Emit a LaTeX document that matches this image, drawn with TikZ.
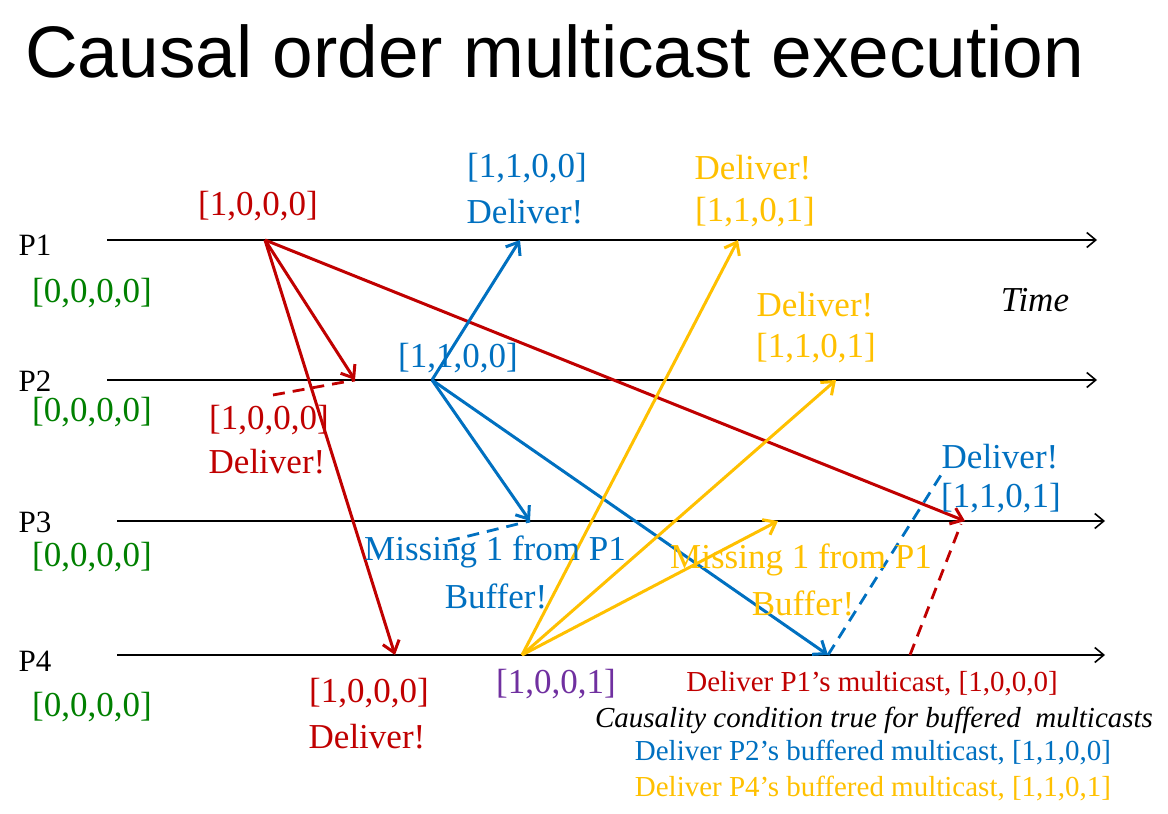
\documentclass[tikz,border=0pt]{standalone}
\usepackage{fontspec}
\setmainfont{Liberation Serif}
\newfontfamily\titlefont{Liberation Sans}
\usetikzlibrary{arrows.meta}
\definecolor{cred}{HTML}{C00000}
\definecolor{cblue}{HTML}{0070C0}
\definecolor{cyel}{HTML}{FFC000}
\definecolor{cgreen}{HTML}{008000}
\definecolor{cpurp}{HTML}{7030A0}
\begin{document}
\begin{tikzpicture}[x=1pt,y=-1pt,
  timeline/.style={black, line width=1.8pt, -{Straight Barb[length=9pt,width=15pt,line width=1.6pt]}},
  msg/.style={line width=3pt, -{Straight Barb[length=11pt,width=17pt]}},
  pointer/.style={line width=2.8pt, dash pattern=on 12pt off 8pt},
  lbl/.style={inner sep=0pt, font=\fontsize{35}{40}\selectfont},
  plbl/.style={inner sep=0pt, font=\fontsize{31}{36}\selectfont},
  small/.style={inner sep=0pt, font=\fontsize{29}{33}\selectfont}]
\useasboundingbox (0,0) rectangle (1168,814);

% title
\node[inner sep=0pt, anchor=base west, font=\titlefont\fontsize{73}{80}\selectfont] (title) at (25,77) {Causal order multicast execution};

% process labels
\node[plbl] (P1) at (35,245) {P1};
\node[plbl] (P2) at (35,381) {P2};
\node[plbl] (P3) at (35,522) {P3};
\node[plbl] (P4) at (35,661) {P4};
\node[lbl, text=cgreen] (v1) at (92,293) {[0,0,0,0]};
\node[lbl, text=cgreen] (v2) at (92,412) {[0,0,0,0]};
\node[lbl, text=cgreen] (v3) at (92,557) {[0,0,0,0]};
\node[lbl, text=cgreen] (v4) at (92,707) {[0,0,0,0]};

% timelines
\coordinate (l1s) at (107,240); \coordinate (l1e) at (1097,240);
\coordinate (l2s) at (107,380); \coordinate (l2e) at (1097,380);
\coordinate (l3s) at (117,521); \coordinate (l3e) at (1105,521);
\coordinate (l4s) at (117,655); \coordinate (l4e) at (1105,655);
\draw[timeline] (l1s) -- (l1e);
\draw[timeline] (l2s) -- (l2e);
\draw[timeline] (l3s) -- (l3e);
\draw[timeline] (l4s) -- (l4e);
\node[inner sep=0pt, font=\fontsize{35}{40}\selectfont\itshape] (time) at (1035,300) {Time};

% event points
\coordinate (a) at (265,240);   % P1 send
\coordinate (a2) at (355,380);  % P2 receive
\coordinate (a3) at (965,521);  % P3 receive
\coordinate (a4) at (395,655);  % P4 receive
\coordinate (b) at (432,380);   % P2 send
\coordinate (b1) at (520,240);
\coordinate (b3) at (530,521);
\coordinate (b4) at (828,655);
\coordinate (c) at (522,655);   % P4 send
\coordinate (c1) at (738,240);
\coordinate (c2) at (836,380);
\coordinate (c3) at (778,521);

% red messages
\draw[msg, cred] (a) -- (a2);
\draw[msg, cred] (a) -- (a4);
\draw[msg, cred] (a) -- (a3);
% blue messages
\draw[msg, cblue] (b) -- (b1);
\draw[msg, cblue] (b) -- (b3);
\draw[msg, cblue] (b) -- (b4);
% yellow messages
\draw[msg, cyel] (c) -- (c1);
\draw[msg, cyel] (c) -- (c2);
\draw[msg, cyel] (c) -- (c3);

% dashed pointers
\coordinate (d1) at (273,395);
\coordinate (d2) at (448,541);
\coordinate (d3) at (941,475);
\coordinate (d4) at (910,655);
\coordinate (d4e) at (961,524);
\draw[pointer, cred] (d1) -- (a2);
\draw[pointer, cblue] (d2) -- (b3);
\draw[pointer, cblue] (b4) -- (d3);
\draw[pointer, cred] (d4) -- (d4e);

% labels
\node[lbl, text=cred] (r0) at (258,206) {[1,0,0,0]};
\node[lbl, text=cblue] (bl1a) at (527,168) {[1,1,0,0]};
\node[lbl, text=cblue] (bl1b) at (525,212) {Deliver!};
\node[lbl, text=cyel] (y1a) at (753,168) {Deliver!};
\node[lbl, text=cyel] (y1b) at (755,212) {[1,1,0,1]};
\node[lbl, text=cyel] (y2a) at (815,305) {Deliver!};
\node[lbl, text=cyel] (y2b) at (816,348) {[1,1,0,1]};
\node[lbl, text=cblue] (bsend) at (458,358) {[1,1,0,0]};
\node[lbl, text=cred] (r2a) at (269,420) {[1,0,0,0]};
\node[lbl, text=cred] (r2b) at (267,462) {Deliver!};
\node[lbl, text=cblue] (b3a) at (1000,457) {Deliver!};
\node[lbl, text=cblue] (b3b) at (1001,498) {[1,1,0,1]};
\node[lbl, text=cblue] (m1a) at (495,552) {Missing 1 from P1};
\node[lbl, text=cblue] (m1b) at (496,596) {Buffer!};
\node[lbl, text=cyel] (m2a) at (801,560) {Missing 1 from P1};
\node[lbl, text=cyel] (m2b) at (803,603) {Buffer!};
\node[lbl, text=cred] (r4a) at (369,693) {[1,0,0,0]};
\node[lbl, text=cred] (r4b) at (367,737) {Deliver!};
\node[lbl, text=cpurp] (csend) at (556,684) {[1,0,0,1]};

% bottom notes
\node[small, text=cred] (n1) at (872,684) {Deliver P1’s multicast, [1,0,0,0]};
\node[small, font=\fontsize{29}{33}\selectfont\itshape] (n2) at (874,720) {Causality condition true for buffered\ \ multicasts};
\node[small, text=cblue] (n3) at (873,753) {Deliver P2’s buffered multicast, [1,1,0,0]};
\node[small, text=cyel] (n4) at (873,789) {Deliver P4’s buffered multicast, [1,1,0,1]};
\end{tikzpicture}
\end{document}
